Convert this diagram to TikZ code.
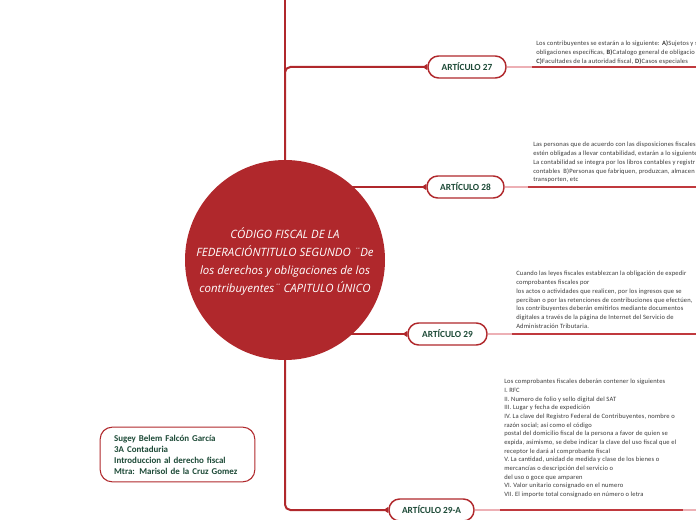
\documentclass[tikz,border=0pt]{standalone}
\usepackage{fontspec}
\setmainfont{Carlito}
\newfontfamily\bodyfont[LetterSpace=2.7]{Carlito}
\newfontfamily\titlefont{Open Sans}
\usetikzlibrary{arrows.meta}
\definecolor{mred}{HTML}{B0282C}
\definecolor{lred}{HTML}{C0393E}
\definecolor{pinkl}{HTML}{EDB0B5}
\definecolor{dgreen}{HTML}{1D4A37}
\definecolor{txt}{HTML}{3A3A3A}
\tikzset{
  artbox/.style={draw=mred, line width=1.1pt, fill=white, rounded corners=8pt,
    minimum height=16.5pt, inner sep=0pt, text=dgreen,
    font=\bfseries\fontsize{7}{8}\selectfont},
  branch/.style={draw=mred, line width=1.5pt, rounded corners=4pt},
  tipped/.style={branch, -{Triangle[reversed,length=3.5pt,width=4.5pt]}},
  pinkseg/.style={draw=pinkl, line width=#1},
  pinkseg/.default=1pt,
  redseg/.style={draw=lred, line width=1.5pt},
  bodytext/.style={anchor=north west, inner sep=0pt, align=left, text=txt,
    font=\bodyfont\fontsize{4.9}{6.55}\selectfont},
}
\begin{document}
\begin{tikzpicture}[x=0.75pt,y=-0.75pt]
\useasboundingbox (0,0) rectangle (696,520);
\clip (0,0) rectangle (696,520);
\fill[white] (0,0) rectangle (696,520);

% centre and far coordinates
\coordinate (c) at (285,260);
\coordinate (top) at (285,-6);

% article nodes
\node[artbox, minimum width=58.5pt] (a27) at (467,67) {ARTÍCULO 27};
\node[artbox, minimum width=57.75pt] (a28) at (465.5,187) {ARTÍCULO 28};
\node[artbox, minimum width=59.25pt] (a29) at (447.5,334) {ARTÍCULO 29};
\node[artbox, minimum width=63.75pt] (a29A) at (431.5,510) {ARTÍCULO 29-A};

% trunk and branches
\draw[branch] (c) -- (top);
\draw[tipped] (c) |- (a27.west);
\draw[tipped] (c |- a28.west) -- (a28.west);
\draw[tipped] (c |- a29.west) -- (a29.west);
\draw[tipped] (c) |- (a29A.west);

% central circle with title
\node[circle, fill=mred, minimum size=150pt, inner sep=0pt] (cc) at (c) {};
\node[text=white, align=center, inner sep=0pt,
      font=\titlefont\itshape\fontsize{8.6}{13.5}\selectfont] (title) at (285,261)
  {CÓDIGO FISCAL DE LA\\FEDERACIÓNTITULO SEGUNDO ¨De\\los derechos y obligaciones de los\\contribuyentes¨ CAPITULO ÚNICO};

% right-hand segments
\coordinate (l27) at (532,67);  \coordinate (e27) at (700,67);
\coordinate (l28) at (528,187); \coordinate (e28) at (700,187);
\coordinate (l29) at (512,334); \coordinate (e29) at (700,334);
\coordinate (l29A) at (500,510); \coordinate (m29A) at (683,510); \coordinate (e29A) at (700,510);
\draw[pinkseg] (a27.east) -- (l27);
\draw[redseg] (l27) -- (e27);
\draw[pinkseg] (a28.east) -- (l28);
\draw[redseg] (l28) -- (e28);
\draw[pinkseg=1.5pt] (a29.east) -- (l29);
\draw[redseg] (l29) -- (e29);
\draw[pinkseg=1.5pt] (a29A.east) -- (l29A);
\draw[redseg] (l29A) -- (m29A);
\draw[pinkseg=1.5pt] (m29A) -- (e29A);

% texts above the lines
\node[bodytext, font=\bodyfont\fontsize{4.9}{6.75}\selectfont] (t27) at (536,40.5)
  {Los contribuyentes se estarán a lo siguiente: \textbf{A)}Sujetos y s\\
   obligaciones específicas, \textbf{B)}Catalogo general de obligacio\\
   \textbf{C)}Facultades de la autoridad fiscal, \textbf{D)}Casos especiales};

\node[bodytext] (t28) at (533,142)
  {Las personas que de acuerdo con las disposiciones fiscales\\
   estén obligadas a llevar contabilidad, estarán a lo siguiente\\
   La contabilidad se integra por los libros contables y registr\\
   contables\ \ B)Personas que fabriquen, produzcan, almacen\\
   transporten, etc};

\node[bodytext] (t29) at (516,271)
  {Cuando las leyes fiscales establezcan la obligación de expedir\\
   comprobantes fiscales por\\
   los actos o actividades que realicen, por los ingresos que se\\
   perciban o por las retenciones de contribuciones que efectúen,\\
   los contribuyentes deberán emitirlos mediante documentos\\
   digitales a través de la página de Internet del Servicio de\\
   Administración Tributaria.};

\node[bodytext, font=\bodyfont\fontsize{4.9}{6.5}\selectfont] (t29A) at (504,379)
  {Los comprobantes fiscales deberán contener lo siguientes\\
   I. RFC\\
   II. Numero de folio y sello digital del SAT\\
   III. Lugar y fecha de expedición\\
   IV. La clave del Registro Federal de Contribuyentes, nombre o\\
   razón social; así como el código\\
   postal del domicilio fiscal de la persona a favor de quien se\\
   expida, asimismo, se debe indicar la clave del uso fiscal que el\\
   receptor le dará al comprobante fiscal\\
   V. La cantidad, unidad de medida y clase de los bienes o\\
   mercancías o descripción del servicio o\\
   del uso o goce que amparen\\
   VI. Valor unitario consignado en el numero\\
   VII. El importe total consignado en número o letra};

% author box
\node[draw=mred, line width=0.8pt, rounded corners=9pt, fill=white,
      minimum width=116pt, minimum height=41pt, text width=95pt,
      inner xsep=10.5pt, inner ysep=0pt, align=left, text=dgreen,
      font=\bfseries\fontsize{6.7}{8.25}\selectfont] (author) at (177.5,454.5)
  {Sugey Belem Falcón García\\3A Contaduria\\Introduccion al derecho fiscal\\Mtra: Marisol de la Cruz Gomez};
\end{tikzpicture}
\end{document}
